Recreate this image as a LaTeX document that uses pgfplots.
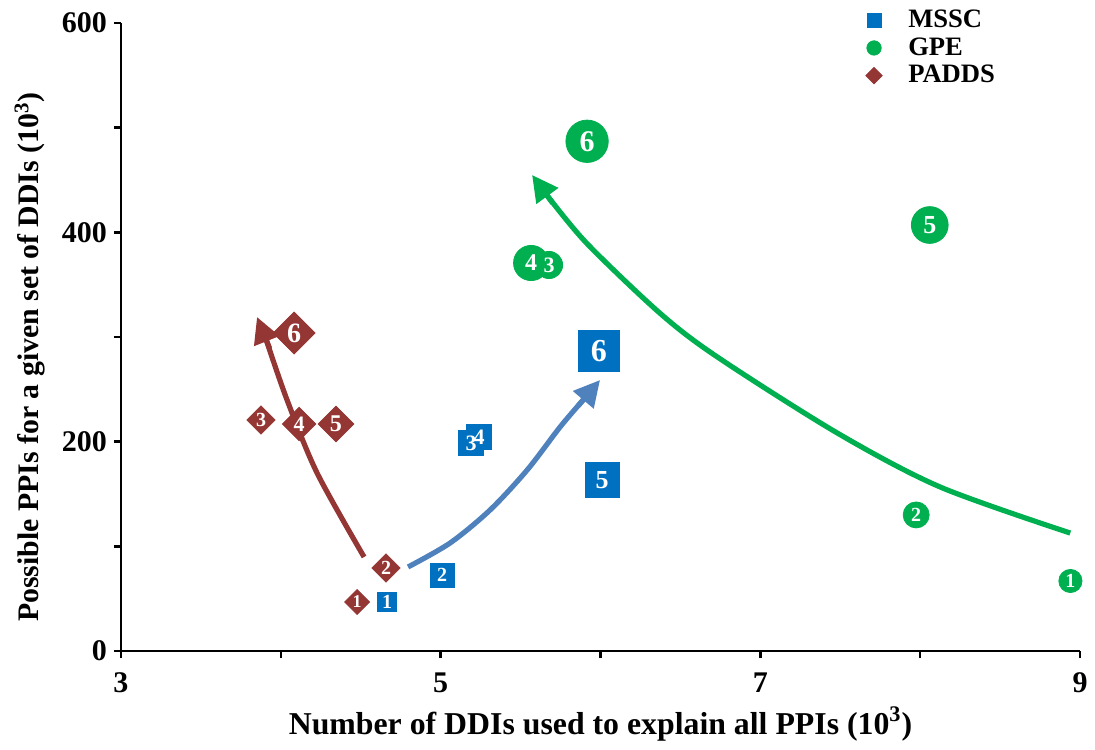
\documentclass[border=0pt]{standalone}
\usepackage{fontspec}
\setmainfont{Liberation Serif}
\usepackage{pgfplots}
\pgfplotsset{compat=1.18}
\usepackage{pgfplotstable}
\usetikzlibrary{arrows.meta}
\definecolor{mssc}{RGB}{0,112,192}
\definecolor{gpe}{RGB}{0,176,80}
\definecolor{padds}{RGB}{148,54,52}
\definecolor{bluearrow}{RGB}{79,129,189}

\pgfplotstableread{
x y s fs lab
4.665 46.8 4.8 10 1
5.009 72.6 6.0 10 2
5.190 198.7 6.4 11 3
5.240 204.4 6.4 11 4
6.010 163.4 8.6 13 5
5.990 286.6 10.4 16 6
}\tabMSSC

\pgfplotstableread{
x y s fs lab
8.940 66.9 5.8 10 1
7.975 130.0 6.5 10 2
5.678 368.8 6.8 11 3
5.566 370.7 8.8 12 4
8.060 407.0 9.2 13 5
5.916 487.0 10.6 15 6
}\tabGPE

\pgfplotstableread{
x y s fs lab
4.477 46.8 4.4 9 1
4.658 79.3 5.0 10 2
3.876 220.7 5.0 10 3
4.114 216.9 5.9 11 4
4.345 216.9 6.3 12 5
4.083 303.8 7.4 14 6
}\tabPADDS

\begin{document}
\begin{tikzpicture}
\begin{axis}[
  name=ax,
  scale only axis,
  width=479.5pt, height=314pt,
  xmin=3, xmax=9, ymin=0, ymax=600,
  axis x line*=bottom, axis y line*=left,
  axis line style={line width=1.2pt, black},
  xtick={3,5,7,9}, ytick={0,200,400,600},
  minor xtick={4,6,8}, minor ytick={100,300,500},
  tick align=outside,
  major tick length=3.5pt, minor tick length=3.5pt,
  every tick/.style={line width=1.2pt, black},
  tick label style={font=\bfseries\fontsize{15}{17}\selectfont},
  /pgf/number format/assume math mode=true,
  xticklabel style={yshift=-4pt},
  xlabel={Number of DDIs used to explain all PPIs (10\textsuperscript{3})},
  ylabel={Possible PPIs for a given set of DDIs (10\textsuperscript{3})},
  xlabel style={font=\bfseries\fontsize{15.9}{18}\selectfont, at={(axis description cs:0.5,-0.116)}, anchor=center},
  ylabel style={font=\bfseries\fontsize{14.9}{17}\selectfont, at={(axis description cs:-0.095,0.468)}, anchor=center},
  legend style={draw=none, fill=none, at={(0.770,1.034)}, anchor=north west,
    font=\bfseries\fontsize{13.3}{14}\selectfont, row sep=-0.5pt, column sep=11pt},
  legend cell align=left,
  clip=false,
]
\addlegendimage{only marks, mark=square*, mark size=3.5pt, mssc}
\addlegendimage{only marks, mark=*, mark size=3.6pt, gpe}
\addlegendimage{only marks, mark=square*, mark size=2.9pt, padds, mark options={rotate=45}}
\legend{MSSC,GPE,PADDS}

% trend arrows: curved shaft + straight head segment
\addplot[forget plot, smooth, line width=2.6pt, padds]
  coordinates {(4.521,89.8) (4.227,170.0) (4.039,239.8) (3.911,296.2)};
\addplot[forget plot, line width=2.6pt, padds, -{Triangle[length=13pt,width=13pt]}]
  coordinates {(3.930,289.1) (3.851,319.1)};
\addplot[forget plot, smooth, line width=2.6pt, bluearrow]
  coordinates {(4.796,80.3) (5.059,103.2) (5.309,134.7) (5.541,172.9) (5.747,214) (5.891,239.8)};
\addplot[forget plot, line width=2.6pt, bluearrow, -{Triangle[length=13pt,width=13pt]}]
  coordinates {(5.859,234.0) (5.997,258.9)};
\addplot[forget plot, smooth, line width=2.6pt, gpe]
  coordinates {(8.939,112.7) (8.125,156.7) (7.481,208.3) (6.728,281.2) (6.373,322.6) (5.914,389.5) (5.664,435.7)};
\addplot[forget plot, line width=2.6pt, gpe, -{Triangle[length=13pt,width=13pt]}]
  coordinates {(5.700,428.0) (5.572,454.8)};

% markers
\addplot[forget plot, scatter, only marks, mark=square*,
  scatter/use mapped color={draw=mssc, fill=mssc},
  visualization depends on={\thisrow{s}\as\ms},
  scatter/@pre marker code/.append style={/tikz/mark size=\ms pt}]
  table[x=x,y=y] {\tabMSSC};
\addplot[forget plot, scatter, only marks, mark=*,
  scatter/use mapped color={draw=gpe, fill=gpe},
  visualization depends on={\thisrow{s}\as\ms},
  scatter/@pre marker code/.append style={/tikz/mark size=\ms pt}]
  table[x=x,y=y] {\tabGPE};
\addplot[forget plot, scatter, only marks, mark=square*,
  scatter/use mapped color={draw=padds, fill=padds},
  visualization depends on={\thisrow{s}\as\ms},
  scatter/@pre marker code/.append style={/tikz/mark size=\ms pt, /tikz/rotate=45}]
  table[x=x,y=y] {\tabPADDS};

% labels
\addplot[forget plot, draw=none, mark=none, point meta=explicit symbolic,
  visualization depends on={\thisrow{fs}\as\fs},
  nodes near coords={\fontsize{\fs}{\fs}\selectfont\bfseries\pgfplotspointmeta},
  nodes near coords align=center,
  every node near coord/.append style={text=white, inner sep=0pt}]
  table[x=x,y=y,meta=lab] {\tabMSSC};
\addplot[forget plot, draw=none, mark=none, point meta=explicit symbolic,
  visualization depends on={\thisrow{fs}\as\fs},
  nodes near coords={\fontsize{\fs}{\fs}\selectfont\bfseries\pgfplotspointmeta},
  nodes near coords align=center,
  every node near coord/.append style={text=white, inner sep=0pt}]
  table[x=x,y=y,meta=lab] {\tabGPE};
\addplot[forget plot, draw=none, mark=none, point meta=explicit symbolic,
  visualization depends on={\thisrow{fs}\as\fs},
  nodes near coords={\fontsize{\fs}{\fs}\selectfont\bfseries\pgfplotspointmeta},
  nodes near coords align=center,
  every node near coord/.append style={text=white, inner sep=0pt}]
  table[x=x,y=y,meta=lab] {\tabPADDS};
\end{axis}
\pgfresetboundingbox
\path ([xshift=-60.5pt,yshift=-49pt]ax.south west) rectangle ([xshift=487pt,yshift=325.5pt]ax.south west);
\end{tikzpicture}
\end{document}
